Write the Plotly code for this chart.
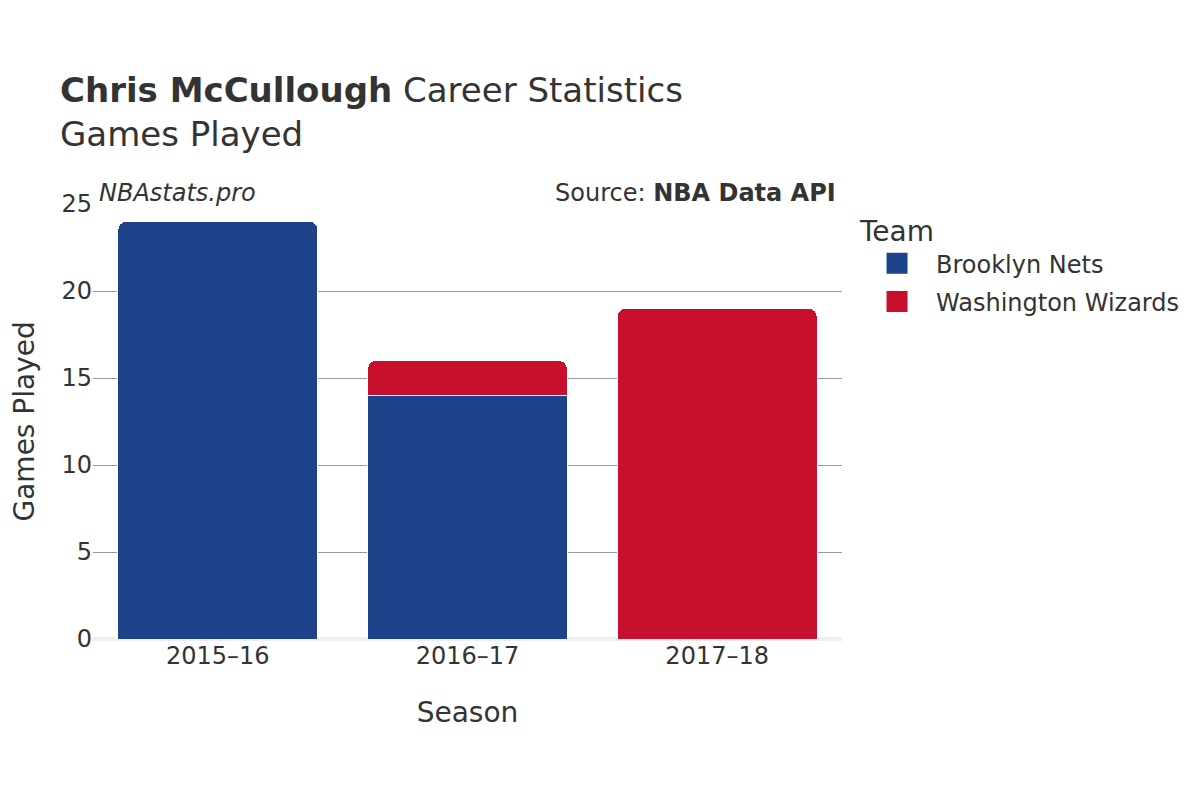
import plotly.graph_objects as go

seasons = ["2015–16", "2016–17", "2017–18"]
nets_seasons = ["2015–16", "2016–17"]
nets_games = [24, 14]
wiz_seasons = ["2016–17", "2017–18"]
wiz_games = [2, 19]
y_ticks = [0, 5, 10, 15, 20, 25]

teams = ["Brooklyn Nets", "Washington Wizards"]
colors = ["#1D428A", "#C8102E"]

font = "DejaVu Sans"
fig = go.Figure()
fig.add_trace(go.Bar(x=nets_seasons, y=nets_games, name=teams[0], showlegend=False,
                     marker=dict(color=colors[0], line=dict(color="white", width=1))))
fig.add_trace(go.Bar(x=wiz_seasons, y=wiz_games, name=teams[1], showlegend=False,
                     marker=dict(color=colors[1], line=dict(color="white", width=1))))
for t, c in zip(teams, colors):
    fig.add_trace(go.Scatter(x=[None], y=[None], mode="markers", name=t, legendgroup=t,
                             marker=dict(symbol="square", size=16, color=c,
                                         line=dict(color=c, width=5))))

fig.update_layout(
    width=1200, height=800,
    barmode="stack", bargap=0.2, barcornerradius=8,
    paper_bgcolor="white", plot_bgcolor="white",
    font=dict(family=font, color="#333", size=24),
    margin=dict(l=85, r=366, t=196, b=169),
    title=dict(text="<b>Chris McCullough</b> Career Statistics<br>Games Played",
               x=52/1200, xanchor="left", xref="container", y=0.8825, yanchor="bottom",
               font=dict(size=34, color="#333")),
    xaxis=dict(categoryorder="array", categoryarray=seasons,
               title=dict(text="Season", font=dict(size=28), standoff=33),
               tickfont=dict(size=24), showgrid=False),
    yaxis=dict(range=[0, 25], tickvals=y_ticks, gridcolor="#999", gridwidth=1,
               zeroline=True, zerolinecolor="#eee", zerolinewidth=4, automargin=False,
               tickfont=dict(size=24)),
    legend=dict(title=dict(text="Team", font=dict(size=28)), font=dict(size=24),
                traceorder="grouped", tracegroupgap=4, itemwidth=68,
                x=1.0214, xref="paper", y=0.998, xanchor="left", yanchor="top"),
    annotations=[
        dict(text="Games Played", x=0, y=0.5, xref="paper", yref="paper", textangle=-90,
             xanchor="center", yanchor="middle", xshift=-69, showarrow=False,
             font=dict(size=28)),
        dict(text="<i>NBAstats.pro</i>", x=0.005, y=1.0, xref="paper", yref="paper",
             xanchor="left", yanchor="bottom", showarrow=False, font=dict(size=24), yshift=-5),
        dict(text="Source: <b>NBA Data API</b>", x=0.995, y=1.0, xref="paper", yref="paper",
             xanchor="right", yanchor="bottom", showarrow=False, font=dict(size=24), yshift=-5),
    ],
)
fig.write_html("out.html")
